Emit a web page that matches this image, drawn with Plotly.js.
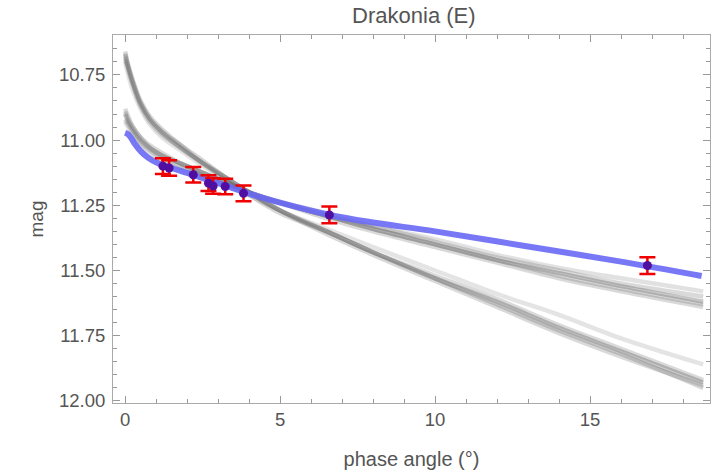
<!DOCTYPE html>
<html>
<head>
<meta charset="utf-8">
<script src="https://cdn.plot.ly/plotly-3.0.1.min.js"></script>
<style>html,body{margin:0;padding:0;background:#fff;}#chart{width:721px;height:476px;}</style>
</head>
<body>
<div id="chart"></div>
<script>
// Observations
const obsPhase = [1.22, 1.42, 2.20, 2.69, 2.84, 3.23, 3.82, 6.59, 16.85];
const obsMag   = [11.100, 11.107, 11.133, 11.165, 11.176, 11.178, 11.204, 11.287, 11.481];
const obsErr   = [0.030, 0.030, 0.030, 0.030, 0.030, 0.030, 0.030, 0.032, 0.032];

// Best-fit model (blue)
const fitPhase = [0, 0.1, 0.2, 0.3, 0.5, 0.75, 1.0, 1.5, 2.0, 3.0, 4.0, 5.0, 6.6, 8.0, 10.0, 13.0, 16.0, 18.6];
const fitMag   = [10.972, 10.978, 10.993, 11.012, 11.042, 11.068, 11.085, 11.107, 11.126, 11.165, 11.205, 11.240, 11.287, 11.316, 11.350, 11.408, 11.466, 11.521];

// Sampled models (gray)
const sampPhase = [0, 0.1, 0.25, 0.5, 0.8, 1.2, 1.8, 2.4, 3.2, 4.0, 5.0, 6.5, 8.0, 10.0, 12.0, 14.0, 16.0, 18.65];
const sampA1 = [10.66, 10.71, 10.77, 10.85, 10.91, 10.96, 11.02, 11.07, 11.14, 11.20, 11.27, 11.35, 11.43, 11.53, 11.63, 11.73, 11.82, 11.95];
const sampA2 = [10.67, 10.72, 10.78, 10.86, 10.92, 10.97, 11.03, 11.08, 11.14, 11.20, 11.27, 11.35, 11.43, 11.53, 11.62, 11.72, 11.81, 11.93];
const sampA3 = [10.69, 10.73, 10.79, 10.87, 10.93, 10.98, 11.03, 11.08, 11.15, 11.21, 11.28, 11.35, 11.43, 11.52, 11.61, 11.71, 11.80, 11.92];
const sampA4 = [10.70, 10.75, 10.81, 10.88, 10.94, 10.99, 11.04, 11.09, 11.15, 11.21, 11.27, 11.34, 11.41, 11.50, 11.59, 11.67, 11.76, 11.86];
const sampA5 = [10.68, 10.72, 10.78, 10.86, 10.92, 10.97, 11.02, 11.08, 11.14, 11.20, 11.27, 11.36, 11.44, 11.54, 11.64, 11.74, 11.83, 11.94];
const sampB1 = [10.88, 10.91, 10.95, 10.99, 11.02, 11.05, 11.09, 11.12, 11.16, 11.20, 11.24, 11.30, 11.35, 11.41, 11.47, 11.53, 11.58, 11.64];
const sampB2 = [10.90, 10.93, 10.96, 11.00, 11.03, 11.06, 11.09, 11.12, 11.16, 11.20, 11.24, 11.29, 11.34, 11.40, 11.46, 11.51, 11.56, 11.62];
const sampB3 = [10.92, 10.94, 10.97, 11.01, 11.04, 11.07, 11.10, 11.13, 11.17, 11.20, 11.24, 11.29, 11.33, 11.39, 11.45, 11.50, 11.55, 11.60];
const sampB4 = [10.93, 10.95, 10.98, 11.02, 11.05, 11.08, 11.11, 11.14, 11.17, 11.21, 11.24, 11.28, 11.33, 11.38, 11.44, 11.49, 11.53, 11.58];
const sampB5 = [10.89, 10.92, 10.95, 10.99, 11.03, 11.06, 11.09, 11.12, 11.16, 11.20, 11.24, 11.29, 11.34, 11.40, 11.46, 11.52, 11.57, 11.63];

const samples = [sampA1, sampA2, sampA3, sampA4, sampA5, sampB1, sampB2, sampB3, sampB4, sampB5];
const sampleOpacity = [0.28, 0.38, 0.25, 0.18, 0.25, 0.25, 0.38, 0.25, 0.2, 0.25];

const xTicks = [0, 5, 10, 15];
const yTicks = [10.75, 11.00, 11.25, 11.50, 11.75, 12.00];

const traces = [];
samples.forEach((s, i) => {
  traces.push({
    x: sampPhase, y: s, type: 'scatter', mode: 'lines',
    line: {color: 'rgb(105,105,105)', width: 4.5, shape: 'spline', smoothing: 1},
    opacity: sampleOpacity[i], hoverinfo: 'skip', showlegend: false
  });
});
traces.push({
  x: fitPhase, y: fitMag, type: 'scatter', mode: 'lines',
  line: {color: 'rgb(105,105,245)', width: 6, shape: 'spline', smoothing: 1},
  opacity: 0.9, showlegend: false
});
traces.push({
  x: obsPhase, y: obsMag, type: 'scatter', mode: 'markers',
  marker: {color: 'rgb(80,15,160)', size: 9},
  error_y: {type: 'data', array: obsErr, visible: true, color: 'rgb(240,0,0)', thickness: 2.5, width: 8},
  showlegend: false
});

const fontFam = '"Liberation Sans", Arial, sans-serif';
const layout = {
  width: 721, height: 476,
  margin: {l: 113, r: 11, t: 35, b: 73, pad: 0},
  paper_bgcolor: '#fff', plot_bgcolor: '#fff',
  font: {family: fontFam, color: '#555', size: 18},
  title: {text: 'Drakonia (E)', font: {family: fontFam, size: 22, color: '#555'}, x: 0.574, xanchor: 'center', y: 0.967, yanchor: 'middle'},
  xaxis: {
    range: [-0.39, 18.87], autorange: false,
    tickvals: xTicks, ticktext: xTicks.map(String),
    ticks: 'inside', ticklen: 7, tickcolor: '#999', tickwidth: 1,
    minor: {dtick: 1, tick0: 0, ticks: 'inside', ticklen: 4, tickcolor: '#999', showgrid: false},
    showline: true, linecolor: '#aaa', linewidth: 1, mirror: 'ticks',
    showgrid: false, zeroline: false,
    tickfont: {size: 18.5, color: '#555'},
    title: {text: 'phase angle (°)', font: {size: 20, color: '#555'}, standoff: 22}
  },
  yaxis: {
    range: [12.008, 10.597], autorange: false,
    tickvals: yTicks, ticktext: yTicks.map(v => v.toFixed(2)),
    ticks: 'inside', ticklen: 7, tickcolor: '#999', tickwidth: 1,
    minor: {dtick: 0.05, tick0: 10, ticks: 'inside', ticklen: 4, tickcolor: '#999', showgrid: false},
    showline: true, linecolor: '#aaa', linewidth: 1, mirror: 'ticks',
    showgrid: false, zeroline: false,
    ticklabelstandoff: 3,
    tickfont: {size: 18.5, color: '#555'},
    title: {text: 'mag', font: {size: 19, color: '#555'}, standoff: 10}
  }
};
Plotly.newPlot('chart', traces, layout, {displayModeBar: false, staticPlot: true});
</script>
</body>
</html>
